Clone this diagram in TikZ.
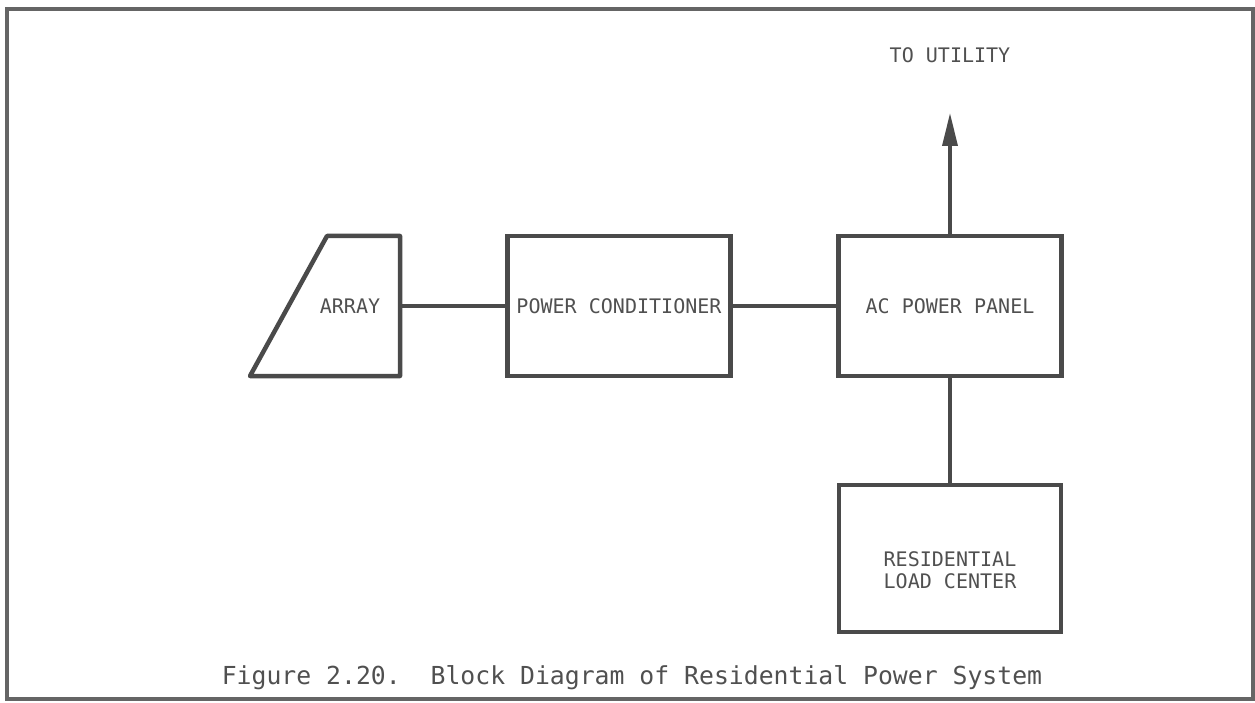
\documentclass[tikz,border=0pt]{standalone}
\usepackage{fontspec}
\setmonofont{DejaVu Sans Mono}
\usepackage{xcolor}
\usetikzlibrary{positioning,arrows.meta}
\definecolor{ink}{HTML}{4A4A4A}
\definecolor{type}{HTML}{505050}

\begin{document}
\begin{tikzpicture}[
node distance=2.15cm,
box/.style={draw=ink, line width=0.09cm, minimum height=2.8cm, minimum width=4.46cm, inner sep=0pt, outer sep=0pt, align=center, font=\ttfamily\fontsize{11.4}{12.5}\selectfont, text=type},
wire/.style={ink, line width=0.07cm},
arrow/.style={-{Triangle[length=0.66cm, width=0.3cm]}, ink, line width=0.07cm}
]
\useasboundingbox (0,0) rectangle (25.1,-14.06);
\draw[ink!85, line width=0.08cm] (0.14,-0.18) rectangle (25.06,-13.98);
% array: text node, slanted outline drawn round it
\node[box, draw=none, minimum width=2cm] (array) at (7.0,-6.12) {ARRAY};
\draw[ink, line width=0.09cm, line join=round] ([xshift=0.54cm]array.north west) -- (array.north east) -- (array.south east) -- ([xshift=-1cm]array.south west) -- cycle;
\node[box, right=of array] (pc) {POWER CONDITIONER};
\node[box, right=2.16cm of pc] (acp) {AC POWER PANEL};
\node[box, below=2.18cm of acp, minimum height=2.94cm, minimum width=4.44cm] (load) {\rule{0pt}{0.78cm}RESIDENTIAL\\LOAD CENTER};
\coordinate[above=2.46cm of acp.north] (tip);
\node[box, draw=none, minimum height=0pt, minimum width=0pt, above=1.0cm of tip] (utility) {TO UTILITY};
\draw[wire] (array.east) -- (pc);
\draw[wire] (pc) -- (acp);
\draw[wire] (acp) -- (load);
\draw[arrow] (acp) -- (tip);
\node[font=\ttfamily\fontsize{14.1}{16}\selectfont, text=type] (caption) at (12.64,-13.56) {Figure 2.20.\ \ Block Diagram of Residential Power System};
\end{tikzpicture}
\end{document}
